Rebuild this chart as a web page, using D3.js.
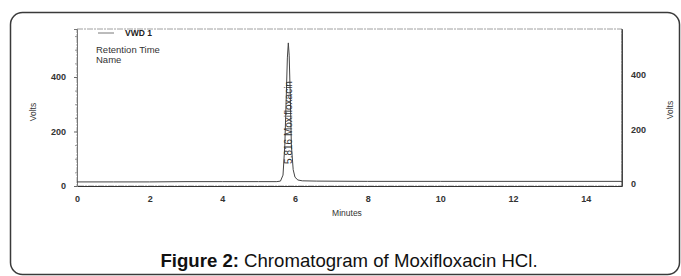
<!DOCTYPE html>
<html>
<head>
<meta charset="utf-8">
<script src="https://cdn.jsdelivr.net/npm/d3@7"></script>
<style>
  html, body { margin: 0; padding: 0; background: #fff; overflow: hidden; }
  svg { display: block; }
  svg text { font-family: "Liberation Sans", Arial, sans-serif; }
</style>
</head>
<body>
<div id="chart"></div>
<script>
// chart values
const minutes = [0, 1, 2, 3, 4, 5, 5.5, 5.6, 5.67, 5.72, 5.76, 5.79, 5.816, 5.84, 5.87, 5.9, 5.95, 6.0, 6.08, 6.2, 6.6, 8, 10, 12, 15];
const volts   = [15, 15, 15, 16, 16, 16, 16, 18, 40, 150, 330, 470, 525, 480, 330, 150, 60, 32, 22, 19, 18, 17, 17, 17, 17];
const xTicks = [0, 2, 4, 6, 8, 10, 12, 14];
const yTicks = [0, 200, 400];
const yMinor = [50, 100, 150, 250, 300, 350, 450, 500, 550];
const peakLabel = {time: 5.816, text: "5.816  Moxifloxacin"};
const legendLines = ["Retention Time", "Name"];

const width = 681, height = 276;
const margin = {top: 29, left: 77};
const innerWidth = 622 - margin.left;
const innerHeight = 186 - margin.top;

const svg = d3.select('#chart')
  .append('svg')
    .attr('width', width)
    .attr('height', height);

// outer rounded frame
svg.append('rect')
  .attr('x', 10.5).attr('y', 12.5)
  .attr('width', 669).attr('height', 262)
  .attr('rx', 12)
  .attr('fill', 'none')
  .attr('stroke', '#3a3a3a')
  .attr('stroke-width', 1.5);

const g = svg.append('g')
  .attr('transform', `translate(${margin.left}, ${margin.top})`);

const xScale = d3.scaleLinear().domain([0, 15]).range([0, innerWidth]);
const yScale = d3.scaleLinear().domain([0, 576]).range([innerHeight, 0]);

// plot box
g.append('rect')
  .attr('x', 0).attr('y', 0)
  .attr('width', innerWidth).attr('height', innerHeight)
  .attr('fill', 'none')
  .attr('stroke', '#888')
  .attr('stroke-width', 0.8)
  .attr('stroke-dasharray', '6,1,2,1');
g.append('line')
  .attr('x1', innerWidth).attr('x2', innerWidth)
  .attr('y1', 0).attr('y2', innerHeight)
  .attr('stroke', '#444');

// x axis
const xAxisG = g.append('g')
  .attr('transform', `translate(0, ${innerHeight})`)
  .call(d3.axisBottom(xScale).tickValues(xTicks).tickSize(0).tickPadding(10));
xAxisG.select('.domain').attr('stroke', '#333').attr('stroke-width', 1.2);
xAxisG.selectAll('text').attr('font-size', 9).attr('font-weight', 'bold').attr('fill', '#333');

// left y axis
const yLeft = g.append('g')
  .call(d3.axisLeft(yScale).tickValues(yTicks).tickSize(3).tickPadding(8));
yLeft.select('.domain').attr('stroke', '#777');
yLeft.selectAll('line').attr('stroke', '#666');
yLeft.selectAll('text').attr('font-size', 9).attr('font-weight', 'bold').attr('fill', '#333');
g.append('g')
  .call(d3.axisLeft(yScale).tickValues(yMinor).tickSize(2).tickFormat(''))
  .call(a => a.select('.domain').remove())
  .selectAll('line').attr('stroke', '#999');

// right y axis
const yRight = g.append('g')
  .attr('transform', `translate(${innerWidth}, 0)`)
  .call(d3.axisRight(yScale).tickValues(yTicks).tickSize(0).tickPadding(9));
yRight.select('.domain').attr('stroke', '#444');
yRight.selectAll('text').attr('font-size', 9).attr('font-weight', 'bold').attr('fill', '#333')
  .attr('dy', '0.1em');

// axis labels
svg.append('text')
  .attr('transform', `translate(36, 112) rotate(-90)`)
  .attr('text-anchor', 'middle')
  .attr('font-size', 8.5).attr('fill', '#333')
  .text('Volts');
svg.append('text')
  .attr('transform', `translate(673, 110) rotate(-90)`)
  .attr('text-anchor', 'middle')
  .attr('font-size', 8.5).attr('fill', '#333')
  .text('Volts');
svg.append('text')
  .attr('x', 347).attr('y', 216)
  .attr('text-anchor', 'middle')
  .attr('font-size', 8.5).attr('fill', '#333')
  .text('Minutes');

// signal trace
const line = d3.line()
  .x((d, i) => xScale(minutes[i]))
  .y(d => yScale(d));
g.append('path')
  .datum(volts)
  .attr('d', line)
  .attr('fill', 'none')
  .attr('stroke', '#444')
  .attr('stroke-width', 1);

// peak label
g.append('text')
  .attr('transform', `translate(${xScale(peakLabel.time) + 4}, ${yScale(volts[0]) - 18}) rotate(-90)`)
  .attr('font-size', 10).attr('fill', '#333')
  .text(peakLabel.text);

// legend
const leg = g.append('g').attr('transform', 'translate(21, 4)');
leg.append('line')
  .attr('x1', 0).attr('x2', 16).attr('y1', 0).attr('y2', 0)
  .attr('stroke', '#555').attr('stroke-width', 0.8);
leg.append('text')
  .attr('x', 27).attr('y', 3)
  .attr('font-size', 8.5).attr('font-weight', 'bold').attr('fill', '#222')
  .text('VWD 1');
leg.selectAll('.leg-line')
  .data(legendLines)
  .enter()
  .append('text')
    .attr('class', 'leg-line')
    .attr('x', -2).attr('y', (d, i) => 20 + i * 10)
    .attr('font-size', 9.5).attr('fill', '#333')
    .text(d => d);

// caption
const cap = svg.append('text')
  .attr('x', 349).attr('y', 267)
  .attr('text-anchor', 'middle')
  .attr('font-size', 18.6).attr('fill', '#111');
cap.append('tspan').attr('font-weight', 'bold').text('Figure 2:');
cap.append('tspan').text(' Chromatogram of Moxifloxacin HCl.');
</script>
</body>
</html>
